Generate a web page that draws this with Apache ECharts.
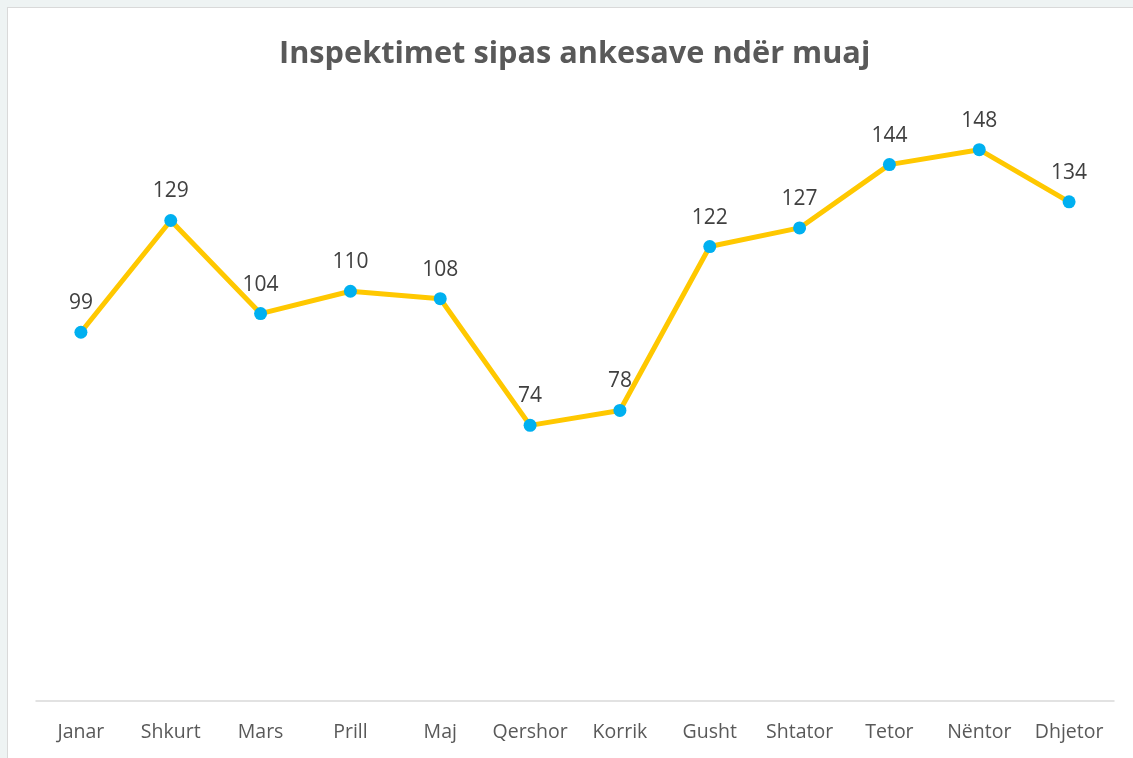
<!DOCTYPE html>
<html>
<head>
<meta charset="utf-8">
<script src="https://cdn.jsdelivr.net/npm/echarts@6/dist/echarts.min.js"></script>
<style>
  body { margin: 0; background: #eef3f3; }
  #main {
    position: absolute; left: 7px; top: 7px;
    width: 1126px; height: 751px;
    background: #ffffff;
    border-left: 1px solid #d9d9d9; border-top: 1px solid #d9d9d9;
  }
</style>
</head>
<body>
<div id="main"></div>
<script>
var months = ['Janar', 'Shkurt', 'Mars', 'Prill', 'Maj', 'Qershor', 'Korrik', 'Gusht', 'Shtator', 'Tetor', 'Nëntor', 'Dhjetor'];
var inspections = [99, 129, 104, 110, 108, 74, 78, 122, 127, 144, 148, 134];

window.onload = function () {
    var chartDom = document.getElementById('main');
    var myChart = echarts.init(chartDom);
    var option;

    option = {
        title: {
            text: 'Inspektimet sipas ankesave ndër muaj',
            left: 266,
            top: 26,
            textStyle: {
                fontFamily: 'Open Sans',
                fontSize: 30.7,
                fontWeight: 'bold',
                color: '#595959'
            }
        },
        grid: {
            left: 28,
            right: 20,
            top: 97,
            bottom: 58
        },
        xAxis: {
            type: 'category',
            data: months,
            axisLine: { lineStyle: { color: '#d9d9d9', width: 1.5 } },
            axisTick: { show: false },
            axisLabel: {
                interval: 0,
                hideOverlap: false,
                fontFamily: 'Open Sans',
                fontSize: 19.5,
                color: '#595959',
                margin: 21
            }
        },
        yAxis: {
            type: 'value',
            min: 0,
            max: 160,
            interval: 20,
            show: false
        },
        series: [
            {
                name: 'Inspektime',
                type: 'line',
                data: inspections,
                symbol: 'circle',
                symbolSize: 13,
                lineStyle: { color: '#ffc800', width: 5 },
                itemStyle: { color: '#00b0f0' },
                label: {
                    show: true,
                    position: 'top',
                    distance: 12,
                    fontFamily: 'Open Sans',
                    fontSize: 21,
                    color: '#404040'
                }
            }
        ]
    };

    myChart.setOption(option);
};
</script>
</body>
</html>
